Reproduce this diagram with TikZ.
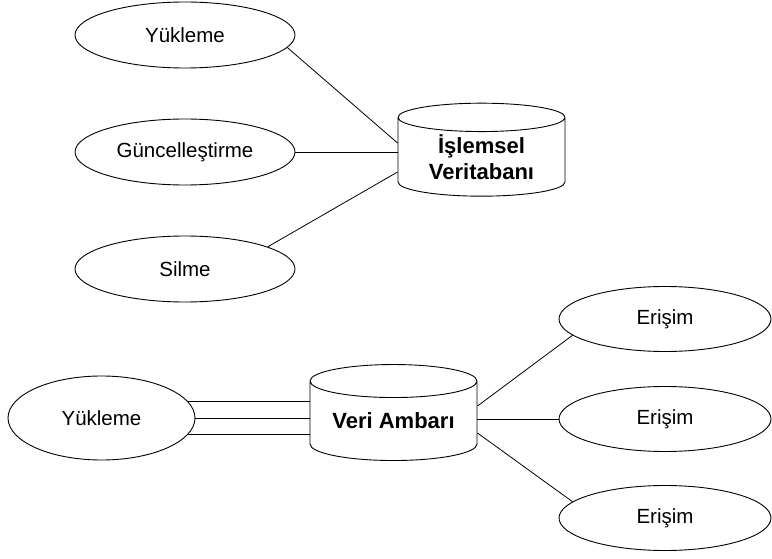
\documentclass[tikz,border=0pt]{standalone}
\usepackage{fontspec}
\setmainfont{Liberation Sans}
\usetikzlibrary{shapes.geometric}

\begin{document}
\begin{tikzpicture}[
        x=1pt, y=-1pt,
        oval/.style={
            draw, ellipse, line width=0.9pt,
            minimum width=220pt, minimum height=66pt,
            inner sep=0pt, font=\fontsize{20.5}{24}\selectfont
        },
        dbbox/.style={
            draw, cylinder, shape border rotate=90, aspect=0.27,
            line width=0.9pt, minimum width=167pt, minimum height=93pt,
            inner sep=0pt, align=center,
            font=\fontsize{22}{26}\selectfont\bfseries
        },
        link/.style={line width=0.8pt}
    ]
        \useasboundingbox (0,0) rectangle (772,559);

        % operational database
        \node[oval] (YukTop) at (185,35) {Yükleme};
        \node[oval] (Guncel) at (185,152) {Güncelleştirme};
        \node[oval] (Silme) at (185,269) {Silme};
        \node[dbbox] (Islem) at (481.5,157) {İşlemsel\\Veritabanı};

        % data warehouse
        \node[oval, minimum width=187pt, minimum height=84pt] (YukBot) at (101.5,418) {Yükleme};
        \node[dbbox, minimum height=96pt] (Ambar) at (393.5,421) {Veri Ambarı};
        \node[oval, minimum width=212pt, minimum height=65pt] (Erisim1) at (665,319) {Erişim};
        \node[oval, minimum width=212pt, minimum height=65pt] (Erisim2) at (665,419) {Erişim};
        \node[oval, minimum width=212pt, minimum height=65pt] (Erisim3) at (665,518) {Erişim};

        \draw[link] (YukTop.-7) -- ([yshift=14pt]Islem.180);
        \draw[link] (Guncel.east) -- (Guncel.east -| Islem.180);
        \draw[link] (Silme.15) -- ([yshift=-15pt]Islem.180);

        \draw[link] (YukBot.11) -- (YukBot.11 -| Ambar.180);
        \draw[link] (YukBot.east) -- (YukBot.east -| Ambar.180);
        \draw[link] (YukBot.-11) -- (YukBot.-11 -| Ambar.180);

        \draw[link] ([yshift=15pt]Ambar.0) -- (Erisim1.-170);
        \draw[link] (Ambar.0 |- Erisim2.west) -- (Erisim2.west);
        \draw[link] ([yshift=-12pt]Ambar.0) -- (Erisim3.170);

    \end{tikzpicture}
\end{document}
